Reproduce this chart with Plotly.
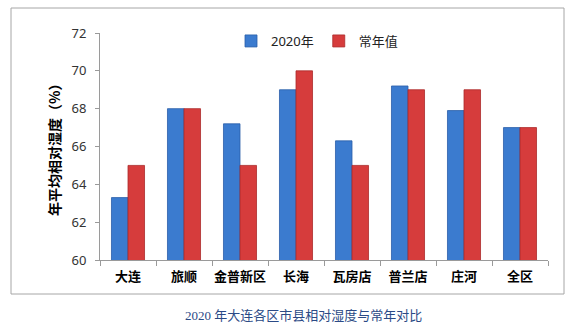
import plotly.graph_objects as go

# Annual mean relative humidity by district (%)
districts = ["大连", "旅顺", "金普新区", "长海", "瓦房店", "普兰店", "庄河", "全区"]
humidity_2020 = [63.3, 68.0, 67.2, 69.0, 66.3, 69.2, 67.9, 67.0]
humidity_normal = [65.0, 68.0, 65.0, 70.0, 65.0, 69.0, 69.0, 67.0]
y_ticks = [60, 62, 64, 66, 68, 70, 72]

W, H = 573, 332
ML, MR, MT, MB = 100, 25, 33, 72
pw, ph = W - ML - MR, H - MT - MB


def px_x(x):
    return (x - ML) / pw


def px_y(y):
    return (H - MB - y) / ph


fig = go.Figure()
fig.add_trace(go.Bar(
    name="2020年", x=districts, y=humidity_2020,
    marker=dict(color="#3b7bcf", line=dict(color="#2a5ea8", width=0.8)),
))
fig.add_trace(go.Bar(
    name="常年值", x=districts, y=humidity_normal,
    marker=dict(color="#d63c3c", line=dict(color="#ab2a2a", width=0.8)),
))

fig.update_layout(
    width=W, height=H,
    margin=dict(l=ML, r=MR, t=MT, b=MB),
    paper_bgcolor="white", plot_bgcolor="white",
    barmode="group", bargap=0.41, bargroupgap=0,
    font=dict(family="Noto Sans, Noto Sans CJK SC", color="#333333"),
    legend=dict(
        orientation="h", x=px_x(231), y=px_y(41), xanchor="left", yanchor="middle",
        font=dict(size=13, color="#222222"), itemwidth=30, traceorder="normal",
        bgcolor="rgba(0,0,0,0)",
    ),
    showlegend=True,
)

fig.update_yaxes(
    range=[60, 72], tickvals=y_ticks, showgrid=False, zeroline=False,
    showline=True, linecolor="#9a9a9a", linewidth=1,
    ticks="outside", ticklen=4, tickcolor="#9a9a9a",
    tickfont=dict(size=13, color="#333333"), ticklabelstandoff=6,
)
fig.update_xaxes(
    showgrid=False, showline=True, linecolor="#9a9a9a", linewidth=1,
    ticks="outside", ticklen=5, tickcolor="#9a9a9a", tickson="boundaries",
    tickangle=0, ticklabelstandoff=4,
    tickfont=dict(size=13, color="#000000", family="Noto Sans CJK SC", weight="bold"),
)

# Y axis title
fig.add_annotation(
    text="年平均相对湿度（%）", textangle=-90,
    xref="paper", yref="paper", x=px_x(54), y=px_y(147),
    showarrow=False, xanchor="center", yanchor="middle",
    font=dict(size=14, color="#000000", family="Noto Sans CJK SC", weight="bold"),
)

# Caption below the chart frame
fig.add_annotation(
    text="2020 年大连各区市县相对湿度与常年对比",
    xref="paper", yref="paper", x=px_x(303), y=px_y(315),
    showarrow=False, xanchor="center", yanchor="middle",
    font=dict(size=13, color="#2b4a86", family="Liberation Serif, Noto Sans CJK SC"),
)

# Chart frame
fig.add_shape(
    type="rect", xref="paper", yref="paper",
    x0=px_x(11), x1=px_x(564), y0=px_y(294), y1=px_y(8),
    line=dict(color="#a6a6a6", width=1), fillcolor="rgba(0,0,0,0)", layer="below",
)

fig.write_html("out.html")
